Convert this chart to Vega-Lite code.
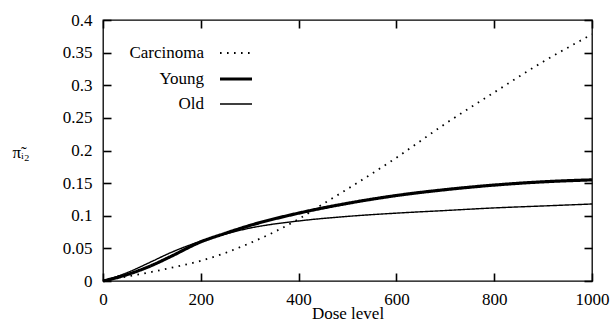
{
  "$schema": "https://vega.github.io/schema/vega-lite/v6.json",
  "width": 489,
  "height": 261,
  "autosize": {"type": "none"},
  "padding": {"left": 103, "top": 20, "right": 22, "bottom": 47},
  "background": "white",
  "config": {
    "view": {"stroke": "black", "strokeWidth": 1.3},
    "font": "Liberation Serif",
    "axis": {
      "grid": false,
      "domain": false,
      "ticks": true,
      "zindex": 1,
      "offset": -8,
      "tickColor": "black",
      "tickWidth": 1.6,
      "tickSize": 8,
      "labelColor": "black",
      "labelFont": "Liberation Serif",
      "labelFontSize": 17,
      "titleFont": "Liberation Serif",
      "titleFontSize": 17,
      "titleFontWeight": "normal",
      "titleColor": "black"
    },
    "legend": {
      "orient": "none",
      "legendX": 115,
      "legendY": 16,
      "title": null,
      "symbolType": "stroke",
      "symbolSize": 1024,
      "symbolStrokeColor": "black",
      "labelFont": "Liberation Serif",
      "labelFontSize": 17,
      "labelColor": "black",
      "labelAlign": "right",
      "labelOffset": -50,
      "rowPadding": -15,
      "padding": 0
    }
  },
  "data": {
    "values": [
      {"series": "Carcinoma", "dose": 0, "p": 0},
      {"series": "Carcinoma", "dose": 50, "p": 0.007},
      {"series": "Carcinoma", "dose": 100, "p": 0.014},
      {"series": "Carcinoma", "dose": 150, "p": 0.022},
      {"series": "Carcinoma", "dose": 200, "p": 0.031},
      {"series": "Carcinoma", "dose": 250, "p": 0.043},
      {"series": "Carcinoma", "dose": 300, "p": 0.058},
      {"series": "Carcinoma", "dose": 350, "p": 0.075},
      {"series": "Carcinoma", "dose": 400, "p": 0.095},
      {"series": "Carcinoma", "dose": 450, "p": 0.118},
      {"series": "Carcinoma", "dose": 500, "p": 0.141},
      {"series": "Carcinoma", "dose": 600, "p": 0.189},
      {"series": "Carcinoma", "dose": 700, "p": 0.241},
      {"series": "Carcinoma", "dose": 800, "p": 0.289},
      {"series": "Carcinoma", "dose": 900, "p": 0.336},
      {"series": "Carcinoma", "dose": 1000, "p": 0.378},
      {"series": "Young", "dose": 0, "p": 0},
      {"series": "Young", "dose": 50, "p": 0.010},
      {"series": "Young", "dose": 100, "p": 0.024},
      {"series": "Young", "dose": 137, "p": 0.037},
      {"series": "Young", "dose": 200, "p": 0.060},
      {"series": "Young", "dose": 250, "p": 0.073},
      {"series": "Young", "dose": 300, "p": 0.085},
      {"series": "Young", "dose": 400, "p": 0.104},
      {"series": "Young", "dose": 500, "p": 0.119},
      {"series": "Young", "dose": 600, "p": 0.131},
      {"series": "Young", "dose": 700, "p": 0.140},
      {"series": "Young", "dose": 800, "p": 0.147},
      {"series": "Young", "dose": 900, "p": 0.152},
      {"series": "Young", "dose": 1000, "p": 0.155},
      {"series": "Old", "dose": 0, "p": 0},
      {"series": "Old", "dose": 50, "p": 0.013},
      {"series": "Old", "dose": 100, "p": 0.030},
      {"series": "Old", "dose": 137, "p": 0.043},
      {"series": "Old", "dose": 200, "p": 0.061},
      {"series": "Old", "dose": 250, "p": 0.072},
      {"series": "Old", "dose": 300, "p": 0.081},
      {"series": "Old", "dose": 400, "p": 0.092},
      {"series": "Old", "dose": 500, "p": 0.099},
      {"series": "Old", "dose": 600, "p": 0.104},
      {"series": "Old", "dose": 700, "p": 0.108},
      {"series": "Old", "dose": 800, "p": 0.112},
      {"series": "Old", "dose": 900, "p": 0.115},
      {"series": "Old", "dose": 1000, "p": 0.118}
    ]
  },
  "layer": [
    {
      "mark": {"type": "line", "interpolate": "monotone", "strokeCap": "butt", "color": "black"},
      "encoding": {
        "x": {
          "field": "dose", "type": "quantitative",
          "scale": {"domain": [0, 1000], "nice": false, "zero": false},
          "axis": {"values": [0, 200, 400, 600, 800, 1000], "format": "d", "title": "Dose level", "labelPadding": 10, "titleY": 40, "titleBaseline": "middle", "labelFlush": false}
        },
        "y": {
          "field": "p", "type": "quantitative",
          "scale": {"domain": [0, 0.4], "nice": false},
          "axis": {"values": [0, 0.05, 0.1, 0.15, 0.2, 0.25, 0.3, 0.35, 0.4], "format": ".2~f", "title": "π̃ᵢ₂", "titleAngle": 0, "titleAlign": "left", "titleBaseline": "middle", "titleX": -99, "titleY": 132, "labelPadding": 11, "labelFlush": false}
        },
        "color": {"field": "series", "type": "nominal", "scale": {"domain": ["Carcinoma", "Young", "Old"], "range": ["black", "black", "black"]}},
        "strokeDash": {"field": "series", "type": "nominal", "scale": {"domain": ["Carcinoma", "Young", "Old"], "range": [[1.6, 5.4], [1, 0], [1, 0]]}},
        "strokeWidth": {"field": "series", "type": "nominal", "scale": {"type": "ordinal", "domain": ["Carcinoma", "Young", "Old"], "range": [1.8, 3.2, 1.4]}}
      }
    },
    {
      "mark": {"type": "line", "opacity": 0},
      "encoding": {
        "x": {"field": "dose", "type": "quantitative", "axis": {"orient": "top", "values": [0, 200, 400, 600, 800, 1000], "labels": false, "title": null}},
        "y": {"field": "p", "type": "quantitative", "axis": {"orient": "right", "values": [0, 0.05, 0.1, 0.15, 0.2, 0.25, 0.3, 0.35, 0.4], "labels": false, "title": null}},
        "detail": {"field": "series", "type": "nominal"}
      }
    }
  ],
  "resolve": {"axis": {"x": "independent", "y": "independent"}}
}
